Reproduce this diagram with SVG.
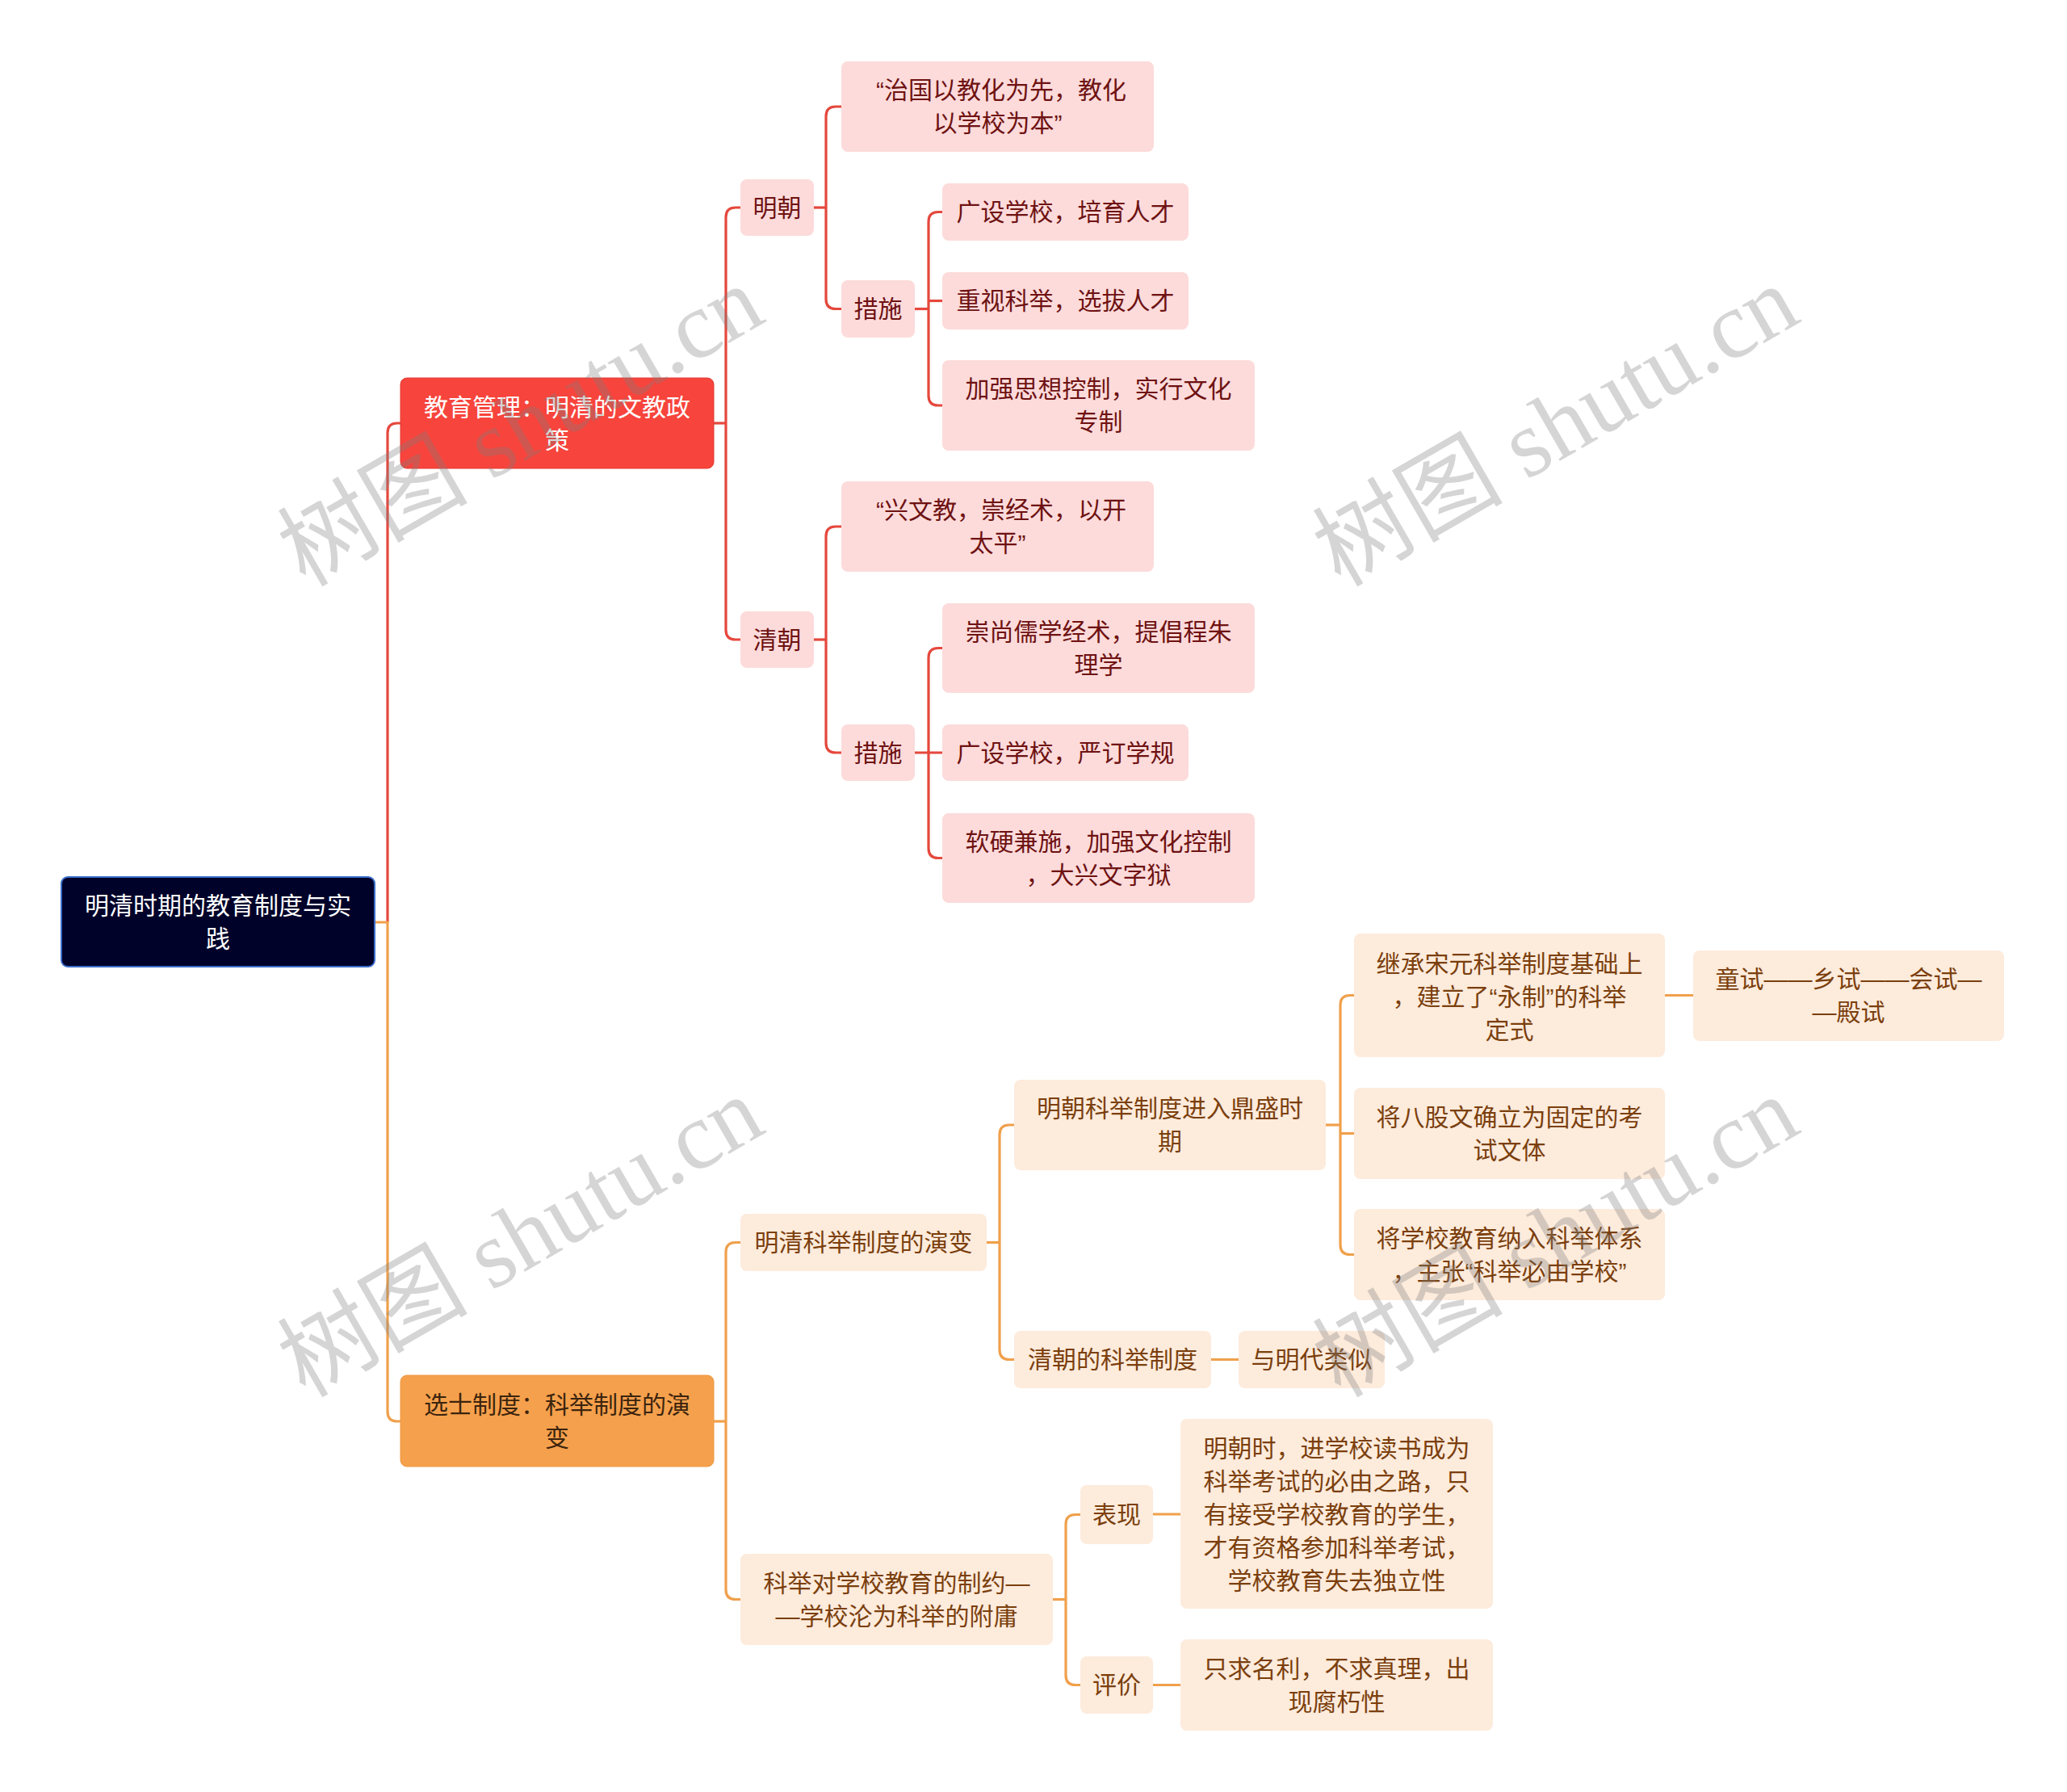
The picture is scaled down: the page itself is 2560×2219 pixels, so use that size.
<svg xmlns="http://www.w3.org/2000/svg" width="2560" height="2219" viewBox="0 0 2560 2219">
<style>
text{font-family:"Liberation Sans","Noto Sans CJK SC",sans-serif;font-size:30px;text-anchor:middle;dominant-baseline:central}
.cr{fill:none;stroke:#e5483d;stroke-width:3.2}
.co{fill:none;stroke:#f0a04c;stroke-width:3.2}
.root rect{fill:#00022a;stroke:#3a6cc8;stroke-width:2}
.root text{fill:#ffffff}
.red rect{fill:#f7443c;stroke:#e23a33;stroke-width:1}
.red text{fill:#ffffff}
.org rect{fill:#f5a04c;stroke:#ef9841;stroke-width:1}
.org text{fill:#3b240e}
.pk rect{fill:#fddbdb}
.pk text{fill:#6e1212}
.pc rect{fill:#fdebdc}
.pc text{fill:#7b3f0d}
.wm{font-family:"Liberation Serif","Noto Sans CJK SC",serif;font-size:118px;fill:#808080;fill-opacity:0.33;text-anchor:middle;dominant-baseline:central}
</style>
<rect width="2560" height="2219" fill="#ffffff"/>
<g id="connectors">
<path class="cr" d="M480 1142 V536 Q480 524 492 524 H496"/>
<path class="co" d="M464 1142 H480 V1748 Q480 1760 492 1760 H496"/>
<path class="cr" d="M884 524 H899"/>
<path class="cr" d="M917 257 H911 Q899 257 899 269 V780 Q899 792 911 792 H917"/>
<path class="cr" d="M1008 257 H1023"/>
<path class="cr" d="M1042 132 H1035 Q1023 132 1023 144 V370.5 Q1023 382.5 1035 382.5 H1042"/>
<path class="cr" d="M1133 382.5 H1150"/>
<path class="cr" d="M1167 262.5 H1162 Q1150 262.5 1150 274.5 V490 Q1150 502 1162 502 H1167"/>
<path class="cr" d="M1150 372.5 H1167"/>
<path class="cr" d="M1008 792 H1023"/>
<path class="cr" d="M1042 652 H1035 Q1023 652 1023 664 V920 Q1023 932 1035 932 H1042"/>
<path class="cr" d="M1133 932 H1167"/>
<path class="cr" d="M1167 802.5 H1162 Q1150 802.5 1150 814.5 V1050.5 Q1150 1062.5 1162 1062.5 H1167"/>
<path class="co" d="M884 1760 H899"/>
<path class="co" d="M917 1538.5 H911 Q899 1538.5 899 1550.5 V1968.5 Q899 1980.5 911 1980.5 H917"/>
<path class="co" d="M1222 1538.5 H1238"/>
<path class="co" d="M1256 1393 H1250 Q1238 1393 1238 1405 V1671.5 Q1238 1683.5 1250 1683.5 H1256"/>
<path class="co" d="M1642 1393 H1660"/>
<path class="co" d="M1677 1232.5 H1672 Q1660 1232.5 1660 1244.5 V1541.5 Q1660 1553.5 1672 1553.5 H1677"/>
<path class="co" d="M1660 1403.5 H1677"/>
<path class="co" d="M1500 1683.5 H1534"/>
<path class="co" d="M2062 1232.5 H2097"/>
<path class="co" d="M1304 1980.5 H1320"/>
<path class="co" d="M1338 1875.5 H1332 Q1320 1875.5 1320 1887.5 V2074.5 Q1320 2086.5 1332 2086.5 H1338"/>
<path class="co" d="M1428 1875 H1462"/>
<path class="co" d="M1428 2086.5 H1462"/>
</g>
<g id="n-root" class="root"><rect x="76" y="1086" width="388" height="111" rx="8"/><text x="270" y="1121">明清时期的教育制度与实</text><text x="270" y="1162">践</text></g>
<g id="n-edu" class="red"><rect x="496" y="468" width="388" height="112" rx="8"/><text x="690" y="504">教育管理：明清的文教政</text><text x="690" y="545">策</text></g>
<g id="n-ming" class="pk"><rect x="917" y="222" width="91" height="70" rx="8"/><text x="962.5" y="257">明朝</text></g>
<g id="n-mq1" class="pk"><rect x="1042" y="76" width="387" height="112" rx="8"/><text x="1240" y="111.5">“治国以教化为先，教化</text><text x="1235.5" y="152.5">以学校为本”</text></g>
<g id="n-mcs" class="pk"><rect x="1042" y="347" width="91" height="71" rx="8"/><text x="1087.5" y="382.5">措施</text></g>
<g id="n-m1" class="pk"><rect x="1167" y="227" width="305" height="71" rx="8"/><text x="1319.5" y="262.5">广设学校，培育人才</text></g>
<g id="n-m2" class="pk"><rect x="1167" y="337" width="305" height="71" rx="8"/><text x="1319.5" y="372.5">重视科举，选拔人才</text></g>
<g id="n-m3" class="pk"><rect x="1167" y="446" width="387" height="112" rx="8"/><text x="1360.5" y="481.5">加强思想控制，实行文化</text><text x="1360.5" y="522.5">专制</text></g>
<g id="n-qing" class="pk"><rect x="917" y="757" width="91" height="70" rx="8"/><text x="962.5" y="792">清朝</text></g>
<g id="n-qq1" class="pk"><rect x="1042" y="596" width="387" height="112" rx="8"/><text x="1240" y="631.5">“兴文教，崇经术，以开</text><text x="1235.5" y="672.5">太平”</text></g>
<g id="n-qcs" class="pk"><rect x="1042" y="897" width="91" height="70" rx="8"/><text x="1087.5" y="932">措施</text></g>
<g id="n-q1" class="pk"><rect x="1167" y="747" width="387" height="111" rx="8"/><text x="1360.5" y="782">崇尚儒学经术，提倡程朱</text><text x="1360.5" y="823">理学</text></g>
<g id="n-q2" class="pk"><rect x="1167" y="897" width="305" height="70" rx="8"/><text x="1319.5" y="932">广设学校，严订学规</text></g>
<g id="n-q3" class="pk"><rect x="1167" y="1007" width="387" height="111" rx="8"/><text x="1360.5" y="1042">软硬兼施，加强文化控制</text><text x="1360.5" y="1083">，大兴文字狱</text></g>
<g id="n-xs" class="org"><rect x="496" y="1703" width="388" height="113" rx="8"/><text x="690" y="1739">选士制度：科举制度的演</text><text x="690" y="1780">变</text></g>
<g id="n-yb" class="pc"><rect x="917" y="1503" width="305" height="71" rx="8"/><text x="1069.5" y="1538.5">明清科举制度的演变</text></g>
<g id="n-mkj" class="pc"><rect x="1256" y="1337" width="386" height="112" rx="8"/><text x="1449" y="1372.5">明朝科举制度进入鼎盛时</text><text x="1449" y="1413.5">期</text></g>
<g id="n-jc" class="pc"><rect x="1677" y="1156" width="385" height="153" rx="8"/><text x="1869.5" y="1193">继承宋元科举制度基础上</text><text x="1869.5" y="1234">，建立了“永制”的科举</text><text x="1869.5" y="1275">定式</text></g>
<g id="n-ts" class="pc"><rect x="2097" y="1177" width="385" height="112" rx="8"/><text x="2289.5" y="1212.5">童试——乡试——会试—</text><text x="2289.5" y="1253.5">—殿试</text></g>
<g id="n-bg" class="pc"><rect x="1677" y="1347" width="385" height="113" rx="8"/><text x="1869.5" y="1383">将八股文确立为固定的考</text><text x="1869.5" y="1424">试文体</text></g>
<g id="n-xx" class="pc"><rect x="1677" y="1497" width="385" height="113" rx="8"/><text x="1869.5" y="1533">将学校教育纳入科举体系</text><text x="1869.5" y="1574">，主张“科举必由学校”</text></g>
<g id="n-qkj" class="pc"><rect x="1256" y="1648" width="244" height="71" rx="8"/><text x="1378" y="1683.5">清朝的科举制度</text></g>
<g id="n-ys" class="pc"><rect x="1534" y="1648" width="181" height="71" rx="8"/><text x="1624.5" y="1683.5">与明代类似</text></g>
<g id="n-zy" class="pc"><rect x="917" y="1924" width="387" height="113" rx="8"/><text x="1110.5" y="1960">科举对学校教育的制约—</text><text x="1110.5" y="2001">—学校沦为科举的附庸</text></g>
<g id="n-bx" class="pc"><rect x="1338" y="1839" width="90" height="73" rx="8"/><text x="1383" y="1875.5">表现</text></g>
<g id="n-pj" class="pc"><rect x="1338" y="2051" width="90" height="71" rx="8"/><text x="1383" y="2086.5">评价</text></g>
<g id="n-bxd" class="pc"><rect x="1462" y="1757" width="387" height="235" rx="8"/><text x="1655.5" y="1793.5">明朝时，进学校读书成为</text><text x="1655.5" y="1834.5">科举考试的必由之路，只</text><text x="1655.5" y="1875.5">有接受学校教育的学生，</text><text x="1655.5" y="1916.5">才有资格参加科举考试，</text><text x="1655.5" y="1957.5">学校教育失去独立性</text></g>
<g id="n-pjd" class="pc"><rect x="1462" y="2030" width="387" height="113" rx="8"/><text x="1655.5" y="2066">只求名利，不求真理，出</text><text x="1655.5" y="2107">现腐朽性</text></g>
<g id="watermarks">
<text class="wm" transform="translate(645 528) rotate(-30)">树图 shutu.cn</text>
<text class="wm" transform="translate(1927 528) rotate(-30)">树图 shutu.cn</text>
<text class="wm" transform="translate(645 1532) rotate(-30)">树图 shutu.cn</text>
<text class="wm" transform="translate(1927 1532) rotate(-30)">树图 shutu.cn</text>
</g>
</svg>
